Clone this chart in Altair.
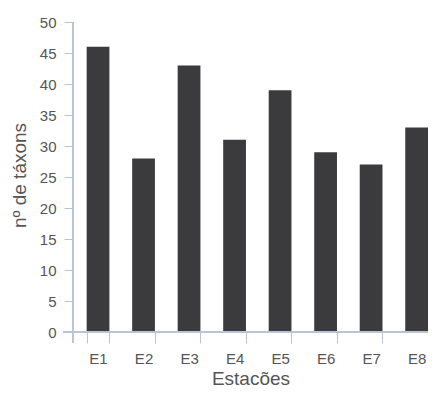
import altair as alt
import pandas as pd

stations = ["E1", "E2", "E3", "E4", "E5", "E6", "E7", "E8"]
taxa = [46, 28, 43, 31, 39, 29, 27, 33]
y_ticks = [0, 5, 10, 15, 20, 25, 30, 35, 40, 45, 50]

df = pd.DataFrame({"Estação": stations, "taxa": taxa})

W, H = 355, 310
axis_col = "#b9c4d8"
text_col = "#555555"
font = "Liberation Sans"

bars = alt.Chart(df).mark_bar(color="#3b3a3d").encode(
    x=alt.X(
        "Estação:N",
        sort=stations,
        scale=alt.Scale(paddingInner=0.5, paddingOuter=0.15, align=1),
        axis=alt.Axis(
            title="Estacões",
            labelAngle=0,
            domain=False,
            tickBand="extent",
            tickSize=11,
            tickColor=axis_col,
            labelPadding=8,
            labelFontSize=15,
            labelColor=text_col,
            labelFont=font,
            titleFont=font,
            titleFontSize=19,
            titleFontWeight="normal",
            titleColor=text_col,
            titlePadding=3,
        ),
    ),
    y=alt.Y(
        "taxa:Q",
        scale=alt.Scale(domain=[0, 50], nice=False),
        axis=alt.Axis(
            title="nº de táxons",
            values=y_ticks,
            domain=False,
            grid=False,
            tickSize=9,
            tickColor=axis_col,
            labelPadding=8,
            labelFontSize=15,
            labelColor=text_col,
            labelFont=font,
            titleFont=font,
            titleFontSize=19,
            titleFontWeight="normal",
            titleColor=text_col,
            titleAngle=270,
            titleX=-48,
            titleY=H / 2 - 2,
            titleAlign="center",
            titleBaseline="alphabetic",
        ),
    ),
)

yline = alt.Chart(df).mark_rule(color=axis_col, strokeWidth=1).encode(
    x=alt.value(0), y=alt.value(0), y2=alt.value(H + 11)
)
xline = alt.Chart(df).mark_rule(color=axis_col, strokeWidth=1).encode(
    x=alt.value(-10), x2=alt.value(W), y=alt.value(H)
)

chart = (
    alt.layer(bars, yline, xline)
    .properties(
        width=W,
        height=H,
        autosize=alt.AutoSizeParams(type="none"),
        padding={"left": 65, "top": 14, "right": 0, "bottom": 57},
        background="white",
    )
    .configure_view(stroke=None)
)

chart.save("out.html", embed_options={"renderer": "svg", "actions": False})
